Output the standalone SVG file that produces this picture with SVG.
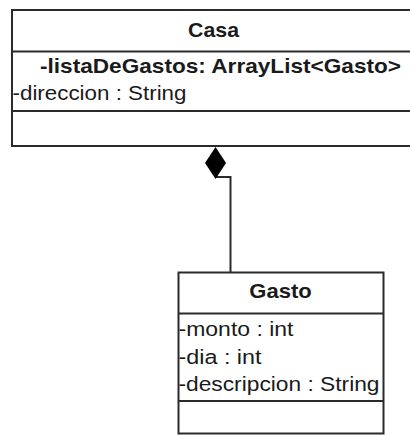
<svg xmlns="http://www.w3.org/2000/svg" width="410" height="435" viewBox="0 0 410 435">
<style>
.box{fill:#ffffff;stroke:#2b2b2b;stroke-width:2}
.ln{stroke:#2b2b2b;stroke-width:2;fill:none}
.t{font-family:"Liberation Sans",Arial,sans-serif;font-size:20.5px;fill:#1a1a1a}
.b{font-weight:bold}
</style>
<rect width="410" height="435" fill="#ffffff"/>
<g id="connectors">
<polyline class="ln" points="216,177 230.5,177 230.5,272"/>
<polygon points="215.5,147 226,163 215.5,179 205,163" fill="#000000"/>
</g>
<g id="casa">
<rect class="box" x="12" y="10" width="402" height="136"/>
<line class="ln" x1="12" y1="51.5" x2="412" y2="51.5"/>
<line class="ln" x1="12" y1="111" x2="412" y2="111"/>
<text class="t b" x="188" y="36.5" textLength="51" lengthAdjust="spacingAndGlyphs">Casa</text>
<text class="t b" x="40" y="72.5" textLength="361" lengthAdjust="spacingAndGlyphs">-listaDeGastos: ArrayList&lt;Gasto&gt;</text>
<text class="t" x="12.5" y="100" textLength="174" lengthAdjust="spacingAndGlyphs">-direccion : String</text>
</g>
<g id="gasto">
<rect class="box" x="178.5" y="272.5" width="205" height="161"/>
<line class="ln" x1="178.5" y1="313.5" x2="383.5" y2="313.5"/>
<line class="ln" x1="178.5" y1="401" x2="383.5" y2="401"/>
<text class="t b" x="249.3" y="298.3" textLength="62.5" lengthAdjust="spacingAndGlyphs">Gasto</text>
<text class="t" x="178.5" y="336" textLength="115" lengthAdjust="spacingAndGlyphs">-monto : int</text>
<text class="t" x="178.5" y="363.5" textLength="83" lengthAdjust="spacingAndGlyphs">-dia : int</text>
<text class="t" x="178.5" y="391" textLength="201" lengthAdjust="spacingAndGlyphs">-descripcion : String</text>
</g>
</svg>
